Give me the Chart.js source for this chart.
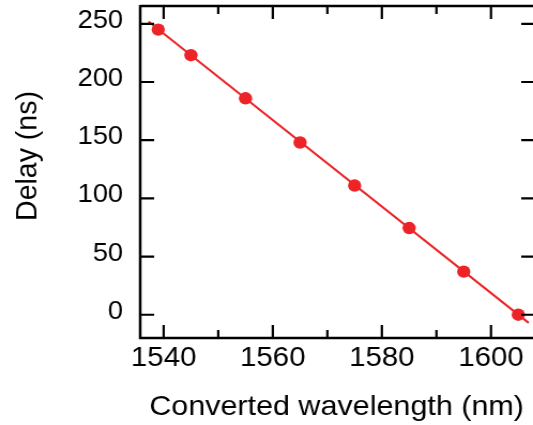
<!DOCTYPE html>
<html>
<head>
<meta charset="utf-8">
<script src="https://cdn.jsdelivr.net/npm/chart.js@4/dist/chart.umd.min.js"></script>
<style>
  html, body { margin: 0; padding: 0; background: #fff; }
  #myChart { display: block; }
</style>
</head>
<body>
<!-- drawn at 498px wide and shown at 533px: the reference is slightly stretched sideways -->
<canvas id="myChart" width="498" height="425" style="width:533px;height:425px"></canvas>
<script>
const wavelengths = [1539, 1545, 1555, 1565, 1575, 1585, 1595, 1605];
const delays = [245, 223, 186, 148, 111, 74.5, 37, 0];
const fitWavelengths = [1537.2, 1606.9];
const fitDelays = [252, -7];
const xTickValues = [1540, 1560, 1580, 1600];
const xMinorTicks = [1550, 1570, 1590];
const yTickValues = [0, 50, 100, 150, 200, 250];

const red = 'rgb(236, 35, 39)';
const fontFamily = "'Liberation Sans', Arial, sans-serif";

// box with inward ticks on all sides, plus the rotated y title
const framePlugin = {
  id: 'frame',
  afterDraw(chart) {
    const { ctx, chartArea: a, scales: { x, y } } = chart;
    ctx.save();
    ctx.strokeStyle = '#000';
    ctx.lineWidth = 2.5;
    ctx.beginPath();
    ctx.moveTo(a.left, a.top - 1);
    ctx.lineTo(a.left, a.bottom);
    ctx.lineTo(a.right, a.bottom);
    ctx.moveTo(a.left, a.top);
    ctx.lineTo(a.right, a.top);
    ctx.stroke();

    ctx.lineWidth = 2.2;
    ctx.beginPath();
    const xTick = (v, len) => {
      const px = x.getPixelForValue(v);
      ctx.moveTo(px, a.top); ctx.lineTo(px, a.top + len);
      ctx.moveTo(px, a.bottom); ctx.lineTo(px, a.bottom - len);
    };
    xTickValues.forEach(v => xTick(v, 13));
    xMinorTicks.forEach(v => xTick(v, 8));
    yTickValues.forEach(v => {
      const py = y.getPixelForValue(v);
      ctx.moveTo(a.left, py); ctx.lineTo(a.left + 13, py);
      ctx.moveTo(a.right, py); ctx.lineTo(a.right - 11, py);
    });
    ctx.stroke();

    ctx.fillStyle = '#000';
    ctx.font = '28.5px ' + fontFamily;
    ctx.textAlign = 'center';
    ctx.textBaseline = 'middle';
    ctx.translate(a.left - 105, (a.top + a.bottom) / 2 - 16);
    ctx.rotate(-Math.PI / 2);
    ctx.fillText('Delay (ns)', 0, 0);
    ctx.restore();
  }
};

const noPadding = s => {
  s.paddingTop = 0; s.paddingBottom = 0; s.paddingLeft = 0; s.paddingRight = 0;
};

const ctx = document.getElementById('myChart').getContext('2d');
const myChart = new Chart(ctx, {
  type: 'scatter',
  data: {
    datasets: [{
      label: 'Measured',
      data: wavelengths.map((w, i) => ({ x: w, y: delays[i] })),
      backgroundColor: red,
      borderColor: red,
      pointRadius: 6.2,
      pointBorderWidth: 0,
      showLine: false
    }, {
      label: 'Fit',
      data: fitWavelengths.map((w, i) => ({ x: w, y: fitDelays[i] })),
      borderColor: red,
      borderWidth: 2,
      pointRadius: 0,
      showLine: true,
      fill: false
    }]
  },
  options: {
    responsive: false,
    animation: false,
    events: [],
    layout: { autoPadding: false, padding: { top: 6, right: 0, bottom: 0, left: 0 } },
    plugins: { legend: { display: false }, tooltip: { enabled: false } },
    scales: {
      x: {
        type: 'linear',
        min: 1535.7,
        max: 1607.7,
        grid: { display: false, drawTicks: false },
        border: { display: false },
        afterBuildTicks: s => { s.ticks = xTickValues.map(v => ({ value: v })); },
        afterFit: s => { s.height = 87; noPadding(s); },
        ticks: {
          autoSkip: false,
          maxRotation: 0,
          minRotation: 0,
          padding: 4,
          color: '#000',
          font: { family: fontFamily, size: 27.5 },
          callback: v => String(v)
        },
        title: {
          display: true,
          text: 'Converted wavelength (nm)',
          color: '#000',
          padding: { top: 0, bottom: 1 },
          font: { family: fontFamily, size: 28.5 }
        }
      },
      y: {
        type: 'linear',
        min: -20,
        max: 265.3,
        grid: { display: false, drawTicks: false },
        border: { display: false },
        afterBuildTicks: s => { s.ticks = yTickValues.map(v => ({ value: v })); },
        afterFit: s => { s.width = 131; noPadding(s); },
        ticks: {
          autoSkip: false,
          padding: 16,
          labelOffset: -3,
          color: '#000',
          font: { family: fontFamily, size: 25.5 },
          callback: v => String(v)
        }
      }
    }
  },
  plugins: [framePlugin]
});
</script>
</body>
</html>
